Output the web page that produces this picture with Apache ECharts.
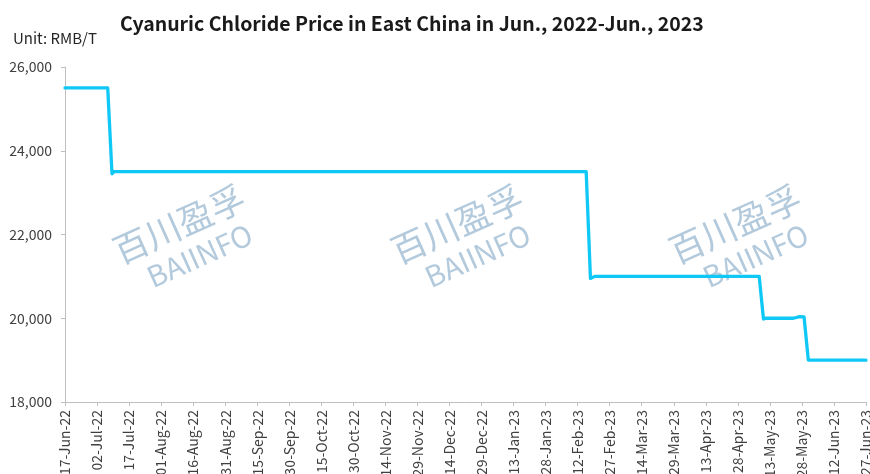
<!DOCTYPE html>
<html>
<head>
<meta charset="utf-8">
<title>Cyanuric Chloride Price in East China</title>
<script src="https://cdn.jsdelivr.net/npm/echarts@6/dist/echarts.min.js"></script>
<style>
  html, body { margin: 0; padding: 0; background: #ffffff; }
  #chart { width: 870px; height: 474px; }
</style>
</head>
<body>
<div id="chart"></div>
<script>
// Axis tick labels, one every 15 days from the first date
const tickLabels = [
  '17-Jun-22', '02-Jul-22', '17-Jul-22', '01-Aug-22', '16-Aug-22', '31-Aug-22',
  '15-Sep-22', '30-Sep-22', '15-Oct-22', '30-Oct-22', '14-Nov-22', '29-Nov-22',
  '14-Dec-22', '29-Dec-22', '13-Jan-23', '28-Jan-23', '12-Feb-23', '27-Feb-23',
  '14-Mar-23', '29-Mar-23', '13-Apr-23', '28-Apr-23', '13-May-23', '28-May-23',
  '12-Jun-23', '27-Jun-23'
];

// Price points (RMB/T) at the dates where the level changes
const priceDates = [
  '2022-06-17', '2022-07-07', '2022-07-09', '2022-07-10',
  '2023-02-16', '2023-02-18', '2023-02-20',
  '2023-05-08', '2023-05-10', '2023-05-11',
  '2023-05-24', '2023-05-27', '2023-05-29', '2023-05-31', '2023-06-27'
];
const priceValues = [
  25500, 25500, 23450, 23500,
  23500, 20950, 21000,
  21000, 19980, 20000,
  20000, 20040, 20030, 19000, 19000
];

const startDate = '2022-06-17';
const dayMs = 86400000;
function dayIndex(s) {
  const p = s.split('-').map(Number);
  const q = startDate.split('-').map(Number);
  return Math.round((Date.UTC(p[0], p[1] - 1, p[2]) - Date.UTC(q[0], q[1] - 1, q[2])) / dayMs);
}
const seriesData = priceDates.map((d, i) => [dayIndex(d), priceValues[i]]);
const lastDay = (tickLabels.length - 1) * 15;

const fontFamily = '"Noto Sans CJK SC", "Noto Sans", sans-serif';

function watermark(cx, cy) {
  return {
    type: 'group',
    x: cx,
    y: cy,
    rotation: 0.42,
    silent: true,
    z: -10,
    children: [
      {
        type: 'text',
        x: -4, y: -18,
        style: {
          text: '百川盈孚',
          fontSize: 35,
          fontFamily: fontFamily,
          fill: '#b3cadd',
          align: 'center',
          verticalAlign: 'middle'
        }
      },
      {
        type: 'text',
        x: 2, y: 19,
        style: {
          text: 'BAIINFO',
          fontSize: 29,
          fontFamily: fontFamily,
          fill: '#b3cadd',
          align: 'center',
          verticalAlign: 'middle'
        }
      }
    ]
  };
}

const chart = echarts.init(document.getElementById('chart'), null, { renderer: 'canvas' });
chart.setOption({
  animation: false,
  backgroundColor: '#ffffff',
  textStyle: { fontFamily: fontFamily },
  title: {
    text: 'Cyanuric Chloride Price in East China in Jun., 2022-Jun., 2023',
    left: 115,
    top: 9,
    textStyle: {
      fontFamily: fontFamily,
      fontSize: 19.5,
      fontWeight: 'bold',
      color: '#1a1a1a'
    }
  },
  graphic: [
    {
      type: 'text',
      left: 13,
      top: 31,
      style: {
        text: 'Unit: RMB/T',
        fontSize: 15,
        fontFamily: fontFamily,
        fill: '#262626'
      }
    },
    watermark(190, 239),
    watermark(468, 239),
    watermark(746, 239)
  ],
  grid: {
    left: 65,
    right: 4,
    top: 67,
    bottom: 72,
    containLabel: false,
    outerBoundsMode: 'none'
  },
  xAxis: {
    type: 'value',
    min: 0,
    max: lastDay,
    interval: 15,
    splitLine: { show: false },
    axisLine: { show: true, lineStyle: { color: '#bfbfbf', width: 1 } },
    axisTick: { show: true, length: 4, lineStyle: { color: '#bfbfbf' } },
    axisLabel: {
      rotate: 90,
      margin: 8,
      fontSize: 14,
      color: '#404040',
      fontFamily: fontFamily,
      showMinLabel: true,
      showMaxLabel: true,
      formatter: function (v) {
        const i = Math.round(v / 15);
        return tickLabels[i] || '';
      }
    }
  },
  yAxis: {
    type: 'value',
    min: 18000,
    max: 26000,
    interval: 2000,
    splitLine: { show: false },
    axisLine: { show: true, lineStyle: { color: '#bfbfbf', width: 1 } },
    axisTick: { show: true, length: 4, lineStyle: { color: '#bfbfbf' } },
    axisLabel: {
      margin: 13,
      fontSize: 14,
      color: '#404040',
      fontFamily: fontFamily,
      formatter: function (v) {
        return v.toString().replace(/\B(?=(\d{3})+(?!\d))/g, ',');
      }
    }
  },
  series: [
    {
      type: 'line',
      data: seriesData,
      showSymbol: false,
      symbol: 'none',
      lineStyle: { color: '#0fc8f6', width: 3.3, join: 'round', cap: 'round' },
      z: 5
    }
  ]
});
</script>
</body>
</html>
